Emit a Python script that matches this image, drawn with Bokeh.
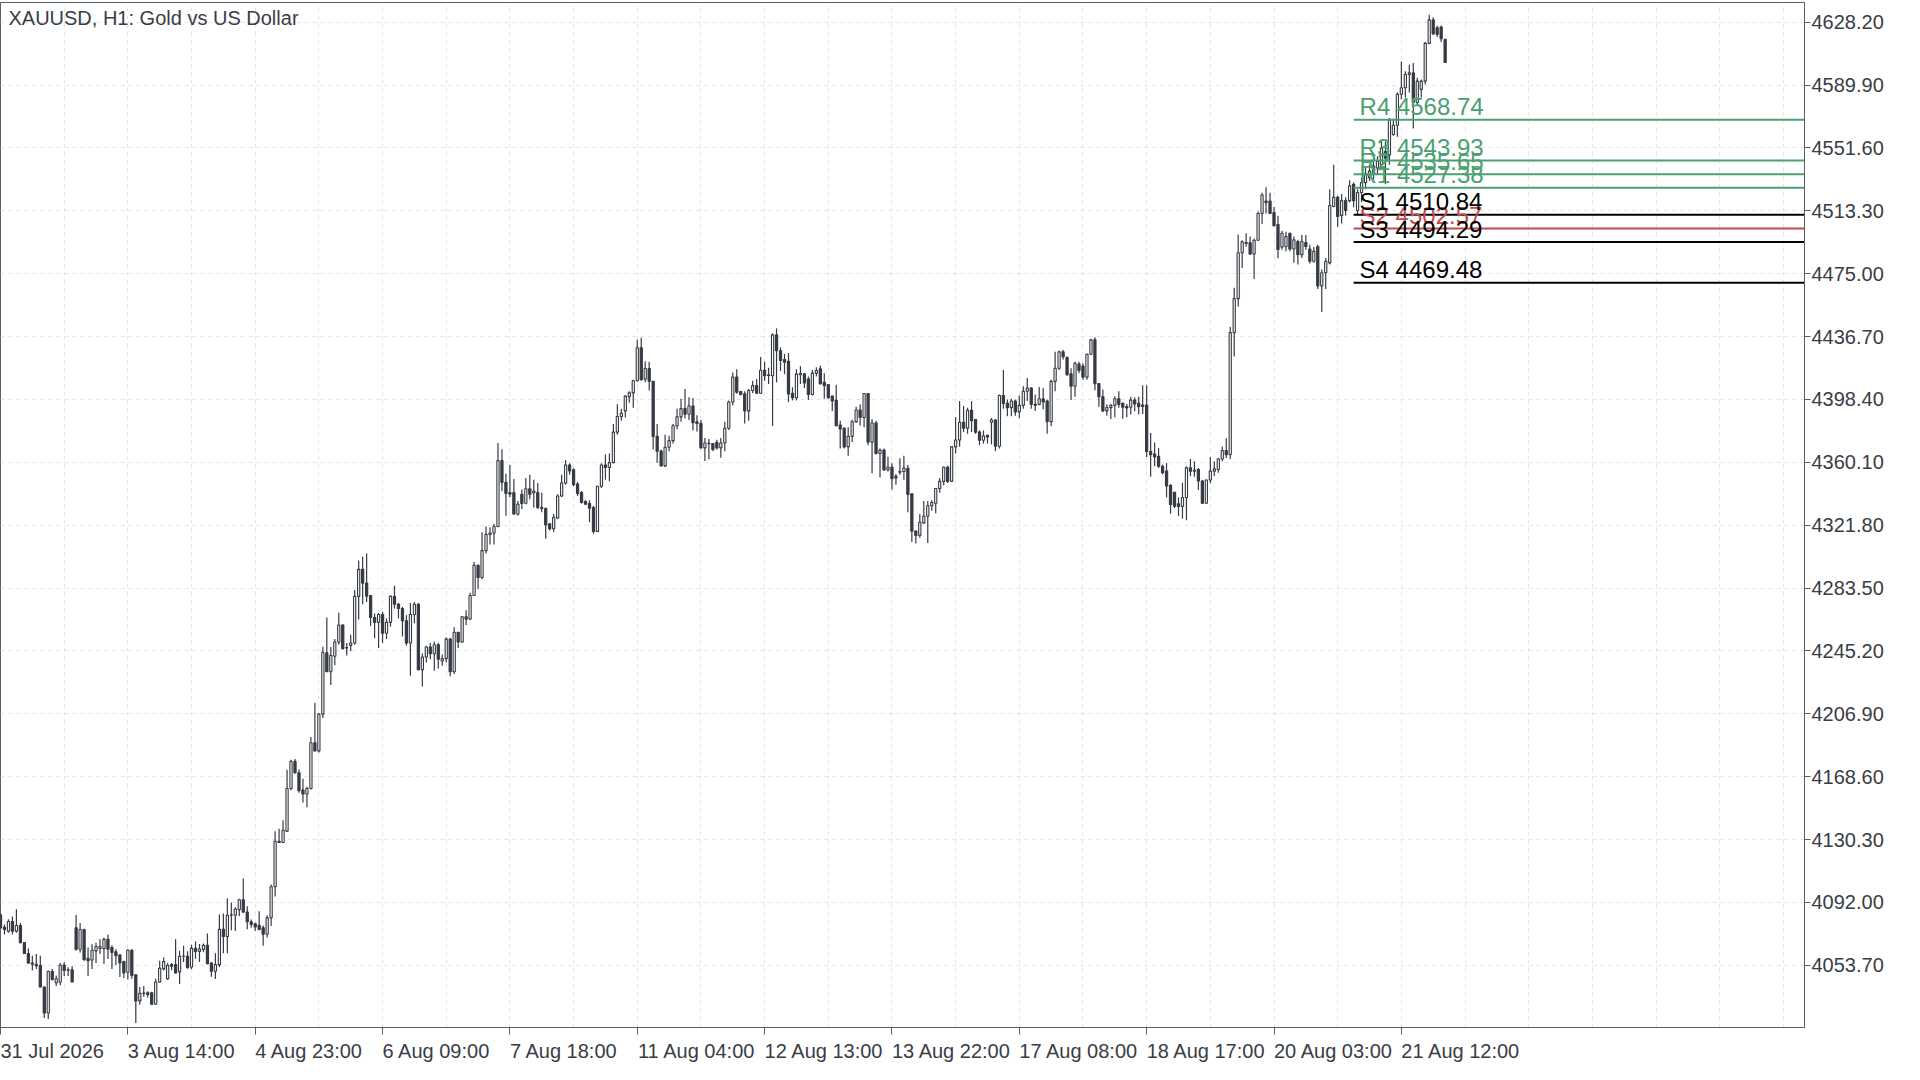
from bokeh.plotting import figure
from bokeh.models import Range1d, FixedTicker, Label, ColumnDataSource, PrintfTickFormatter
from bokeh.embed import file_html
from bokeh.resources import INLINE
from bokeh.core.properties import value

# ---------------- data ----------------
chart_title = "XAUUSD, H1:  Gold vs US Dollar"

opens = [
    4084.4, 4076.9, 4074.5, 4080.4, 4074.5, 4077.9, 4067.5, 4060.9, 4055.1, 4054.3,
    4053.5, 4040.5, 4024.6, 4049.9, 4043.1, 4043.5, 4053.9, 4050.9, 4050.9, 4076.5,
    4063.5, 4075.5, 4057.9, 4056.9, 4062.5, 4064.0, 4063.9, 4069.5, 4064.5, 4061.9,
    4059.9, 4055.9, 4049.5, 4062.9, 4047.9, 4032.0, 4036.6, 4037.0, 4037.0, 4030.0,
    4043.5, 4051.5, 4045.5, 4054.1, 4054.1, 4049.7, 4059.2, 4059.2, 4052.7, 4064.0,
    4062.2, 4063.4, 4065.8, 4055.1, 4050.1, 4054.1, 4075.6, 4071.2, 4084.2, 4084.2,
    4087.6, 4093.6, 4086.2, 4080.2, 4079.0, 4078.0, 4076.6, 4072.6, 4082.6, 4101.5,
    4129.3, 4128.5, 4135.4, 4161.4, 4177.9, 4171.0, 4160.4, 4158.0, 4161.4, 4189.3,
    4184.3, 4206.7, 4244.0, 4232.5, 4242.0, 4250.6, 4261.0, 4247.0, 4248.6, 4250.0,
    4278.4, 4294.9, 4286.5, 4279.0, 4265.6, 4262.6, 4267.4, 4256.0, 4262.6, 4278.4,
    4273.6, 4271.0, 4263.6, 4250.0, 4267.4, 4273.6, 4233.7, 4241.5, 4247.6, 4243.5,
    4249.0, 4239.1, 4240.5, 4252.4, 4232.5, 4256.6, 4250.6, 4266.0, 4264.6, 4279.0,
    4297.3, 4289.9, 4306.3, 4316.2, 4317.0, 4321.0, 4361.1, 4347.9, 4341.6, 4341.6,
    4328.6, 4340.6, 4335.2, 4344.0, 4341.6, 4341.6, 4332.6, 4332.0, 4322.6, 4319.6,
    4326.2, 4339.6, 4347.5, 4358.5, 4355.5, 4346.9, 4341.6, 4336.2, 4335.0, 4332.6,
    4318.0, 4345.5, 4358.5, 4356.9, 4359.9, 4378.5, 4388.0, 4391.4, 4400.0, 4402.4,
    4409.8, 4429.9, 4410.8, 4417.2, 4409.4, 4375.9, 4366.9, 4357.9, 4369.3, 4373.3,
    4382.4, 4387.8, 4392.8, 4389.4, 4394.4, 4384.8, 4383.8, 4368.9, 4371.5, 4371.5,
    4372.3, 4368.9, 4371.9, 4380.8, 4396.8, 4412.1, 4403.2, 4401.8, 4391.4, 4403.8,
    4406.8, 4402.2, 4416.2, 4413.0, 4412.8, 4437.7, 4428.1, 4422.7, 4421.7, 4402.2,
    4399.4, 4413.4, 4414.0, 4410.8, 4401.4, 4414.4, 4417.0, 4408.8, 4407.4, 4400.4,
    4397.8, 4382.8, 4380.8, 4369.5, 4375.9, 4384.8, 4392.0, 4387.4, 4402.0, 4372.4,
    4384.0, 4365.5, 4367.5, 4355.5, 4357.1, 4351.5, 4354.5, 4354.5, 4356.5, 4340.9,
    4318.2, 4315.6, 4323.2, 4327.2, 4333.6, 4335.2, 4344.1, 4348.5, 4357.1, 4348.5,
    4369.5, 4373.7, 4384.5, 4380.9, 4391.8, 4386.1, 4378.5, 4373.5, 4376.5, 4384.5,
    4385.9, 4369.9, 4400.8, 4396.0, 4393.4, 4397.4, 4390.8, 4394.8, 4403.4, 4405.4,
    4395.4, 4395.4, 4398.8, 4397.4, 4384.9, 4409.4, 4417.4, 4427.4, 4424.0, 4414.0,
    4406.4, 4420.0, 4418.8, 4412.0, 4425.9, 4434.7, 4408.0, 4400.0, 4391.4, 4393.4,
    4394.8, 4398.8, 4396.0, 4394.0, 4393.6, 4398.0, 4396.0, 4395.0, 4395.0, 4366.7,
    4365.1, 4363.7, 4357.7, 4354.7, 4346.1, 4341.8, 4334.8, 4333.2, 4338.7, 4356.7,
    4355.3, 4355.7, 4348.7, 4335.2, 4349.3, 4354.7, 4355.7, 4362.1, 4367.3, 4364.7,
    4439.1, 4459.8, 4487.8, 4494.0, 4493.8, 4487.0, 4495.4, 4511.7, 4519.3, 4519.3,
    4512.3, 4504.9, 4491.2, 4491.6, 4499.6, 4490.0, 4494.6, 4486.6, 4494.0, 4490.0,
    4482.6, 4491.6, 4467.6, 4475.6, 4481.6, 4515.9, 4521.5, 4510.5, 4519.5, 4519.5,
    4529.5, 4513.5, 4524.5, 4530.5, 4533.5, 4535.5, 4539.4, 4541.4, 4549.4, 4547.4,
    4559.8, 4565.4, 4584.3, 4588.3, 4596.3, 4597.3, 4579.3, 4587.3, 4592.3, 4615.3,
    4629.6, 4624.8, 4625.2, 4617.6,
]

highs = [
    4085.5, 4078.5, 4081.8, 4083.4, 4087.8, 4079.5, 4067.9, 4063.9, 4059.5, 4060.5,
    4059.5, 4040.8, 4050.5, 4051.5, 4047.5, 4055.1, 4055.5, 4052.5, 4053.1, 4084.4,
    4079.5, 4075.9, 4064.5, 4066.5, 4067.5, 4069.5, 4070.5, 4072.5, 4065.9, 4063.5,
    4060.5, 4056.5, 4063.5, 4063.5, 4048.2, 4040.5, 4041.1, 4037.9, 4037.6, 4045.5,
    4056.5, 4058.5, 4055.1, 4055.1, 4069.6, 4062.6, 4065.6, 4062.2, 4066.2, 4068.2,
    4066.6, 4067.0, 4073.0, 4055.7, 4061.0, 4084.6, 4085.2, 4094.6, 4092.0, 4089.0,
    4094.2, 4106.5, 4089.6, 4081.6, 4079.6, 4086.6, 4078.0, 4084.2, 4102.9, 4135.4,
    4136.8, 4142.0, 4172.8, 4178.9, 4179.3, 4173.0, 4167.4, 4162.4, 4192.7, 4213.6,
    4207.3, 4247.8, 4265.6, 4247.6, 4252.4, 4268.4, 4261.4, 4250.0, 4255.0, 4282.3,
    4300.3, 4302.5, 4304.5, 4279.2, 4268.0, 4268.4, 4269.0, 4265.0, 4279.0, 4284.9,
    4274.4, 4272.0, 4267.0, 4274.4, 4275.0, 4274.4, 4243.7, 4248.4, 4250.0, 4251.0,
    4250.0, 4243.0, 4253.6, 4253.0, 4259.6, 4256.8, 4266.4, 4270.0, 4280.6, 4299.3,
    4297.9, 4317.5, 4321.0, 4320.6, 4322.6, 4371.9, 4368.1, 4353.1, 4358.5, 4349.9,
    4336.6, 4343.6, 4350.5, 4352.5, 4349.5, 4347.5, 4341.6, 4332.6, 4323.0, 4328.6,
    4340.6, 4352.5, 4361.5, 4359.5, 4356.5, 4348.1, 4342.6, 4337.0, 4337.0, 4333.6,
    4345.8, 4359.5, 4364.9, 4365.5, 4383.4, 4395.4, 4392.8, 4401.0, 4403.4, 4410.4,
    4434.7, 4435.9, 4421.7, 4421.3, 4409.6, 4383.4, 4367.9, 4376.9, 4376.3, 4383.4,
    4392.8, 4398.8, 4404.8, 4399.8, 4399.2, 4388.8, 4385.8, 4374.9, 4374.3, 4371.9,
    4373.9, 4374.9, 4384.8, 4397.8, 4414.8, 4416.8, 4403.4, 4403.4, 4404.8, 4409.8,
    4410.8, 4424.3, 4421.3, 4417.7, 4438.7, 4441.7, 4430.1, 4426.1, 4426.7, 4405.8,
    4416.8, 4418.7, 4414.4, 4412.4, 4416.4, 4418.0, 4419.0, 4414.4, 4407.6, 4400.8,
    4407.4, 4385.4, 4381.4, 4381.4, 4386.0, 4394.0, 4395.4, 4402.2, 4402.2, 4386.4,
    4385.4, 4368.5, 4368.5, 4363.5, 4359.5, 4352.9, 4362.5, 4364.1, 4358.5, 4341.0,
    4318.6, 4328.6, 4336.6, 4336.6, 4337.0, 4344.5, 4350.5, 4357.5, 4358.1, 4369.9,
    4387.5, 4397.4, 4394.4, 4393.4, 4397.4, 4386.5, 4379.5, 4379.5, 4376.9, 4387.1,
    4386.5, 4401.4, 4416.4, 4398.4, 4398.8, 4398.4, 4400.8, 4406.4, 4411.4, 4405.8,
    4401.4, 4406.0, 4405.4, 4398.4, 4410.4, 4427.4, 4428.0, 4428.7, 4424.4, 4417.4,
    4421.4, 4421.4, 4420.4, 4426.4, 4435.3, 4436.3, 4408.4, 4404.4, 4395.4, 4395.4,
    4400.4, 4403.4, 4396.6, 4395.6, 4400.0, 4399.6, 4400.0, 4407.0, 4407.0, 4378.0,
    4372.1, 4368.7, 4358.7, 4359.7, 4346.7, 4342.1, 4338.7, 4347.7, 4357.7, 4362.1,
    4360.7, 4356.7, 4349.3, 4349.7, 4363.3, 4360.7, 4362.7, 4369.7, 4374.7, 4442.5,
    4466.4, 4498.9, 4495.4, 4499.7, 4497.7, 4496.4, 4512.9, 4524.3, 4527.7, 4524.3,
    4515.7, 4510.3, 4501.2, 4500.6, 4500.0, 4497.6, 4495.6, 4498.6, 4498.6, 4492.6,
    4491.2, 4492.6, 4477.6, 4484.6, 4526.5, 4541.4, 4522.5, 4523.5, 4521.5, 4531.9,
    4530.5, 4526.5, 4533.5, 4539.5, 4541.4, 4543.4, 4546.4, 4556.4, 4555.4, 4569.8,
    4569.4, 4585.3, 4604.3, 4598.3, 4602.3, 4603.3, 4594.3, 4593.3, 4616.2, 4632.8,
    4631.2, 4626.2, 4626.2, 4618.2,
]

lows = [
    4076.0, 4072.5, 4073.5, 4072.5, 4073.5, 4067.1, 4060.5, 4054.5, 4050.5, 4051.5,
    4040.2, 4021.6, 4021.0, 4044.5, 4041.1, 4041.6, 4047.1, 4047.1, 4043.3, 4062.5,
    4061.5, 4056.5, 4047.1, 4051.5, 4055.1, 4060.5, 4054.5, 4057.5, 4051.5, 4053.9,
    4046.5, 4045.9, 4045.1, 4045.5, 4018.6, 4029.6, 4034.6, 4034.0, 4029.6, 4029.6,
    4043.1, 4050.5, 4044.7, 4050.7, 4048.7, 4042.3, 4055.7, 4051.7, 4051.3, 4057.7,
    4055.7, 4061.6, 4054.3, 4046.7, 4045.3, 4052.7, 4061.0, 4061.0, 4075.0, 4074.6,
    4083.6, 4085.6, 4075.6, 4076.6, 4074.6, 4075.0, 4065.6, 4070.6, 4077.6, 4095.6,
    4128.3, 4128.3, 4134.9, 4160.4, 4170.4, 4158.8, 4152.8, 4150.0, 4160.8, 4183.9,
    4183.3, 4204.3, 4232.3, 4224.5, 4236.5, 4249.0, 4246.0, 4242.4, 4245.0, 4249.0,
    4264.4, 4273.6, 4275.0, 4260.4, 4253.0, 4247.0, 4250.0, 4252.4, 4260.0, 4271.0,
    4265.0, 4254.0, 4248.4, 4230.1, 4262.0, 4233.5, 4223.5, 4238.1, 4240.1, 4233.1,
    4234.5, 4236.1, 4238.1, 4229.7, 4231.1, 4247.0, 4250.0, 4261.0, 4264.4, 4278.6,
    4282.9, 4288.9, 4304.5, 4310.0, 4310.0, 4320.6, 4342.6, 4327.6, 4339.0, 4328.2,
    4327.6, 4331.6, 4334.6, 4337.6, 4332.6, 4331.6, 4329.6, 4313.6, 4318.6, 4317.6,
    4325.6, 4339.0, 4346.5, 4352.5, 4345.5, 4339.6, 4335.0, 4334.2, 4323.6, 4316.6,
    4317.6, 4344.5, 4349.5, 4348.5, 4359.5, 4376.9, 4385.4, 4387.4, 4396.4, 4393.4,
    4409.4, 4410.0, 4408.8, 4403.8, 4367.9, 4359.9, 4357.5, 4357.3, 4366.9, 4371.5,
    4380.2, 4384.8, 4386.8, 4385.8, 4379.4, 4378.8, 4368.5, 4360.9, 4361.9, 4366.9,
    4367.9, 4362.9, 4366.9, 4379.8, 4394.8, 4401.8, 4400.8, 4383.8, 4385.4, 4402.2,
    4401.8, 4401.8, 4409.8, 4407.8, 4382.2, 4408.8, 4415.7, 4413.8, 4396.8, 4397.8,
    4397.8, 4407.8, 4405.4, 4398.0, 4400.8, 4412.4, 4407.4, 4398.8, 4398.8, 4391.4,
    4382.0, 4368.5, 4368.5, 4364.1, 4372.4, 4384.0, 4382.4, 4381.4, 4370.5, 4353.5,
    4364.9, 4350.9, 4355.0, 4354.5, 4343.5, 4346.5, 4352.5, 4349.5, 4329.6, 4311.6,
    4310.6, 4314.2, 4322.6, 4311.0, 4330.6, 4329.0, 4341.6, 4346.1, 4347.5, 4348.1,
    4365.5, 4369.5, 4378.5, 4377.5, 4378.5, 4377.5, 4370.5, 4371.5, 4371.5, 4371.0,
    4366.9, 4368.5, 4392.8, 4388.1, 4388.1, 4388.5, 4386.9, 4392.8, 4397.4, 4392.8,
    4391.4, 4394.8, 4392.4, 4377.5, 4382.1, 4403.4, 4416.4, 4422.8, 4412.8, 4398.0,
    4400.0, 4414.4, 4410.4, 4410.4, 4425.4, 4404.0, 4394.0, 4390.8, 4388.5, 4386.5,
    4387.5, 4393.4, 4386.6, 4387.6, 4389.2, 4391.2, 4389.2, 4389.6, 4363.3, 4351.3,
    4357.7, 4356.7, 4352.7, 4338.7, 4328.8, 4332.2, 4327.4, 4325.8, 4324.8, 4351.7,
    4351.3, 4343.3, 4334.8, 4334.8, 4347.3, 4351.7, 4353.7, 4360.7, 4362.7, 4362.1,
    4424.5, 4455.0, 4478.4, 4491.4, 4486.4, 4471.8, 4495.0, 4505.3, 4511.7, 4511.3,
    4503.7, 4484.4, 4489.6, 4488.6, 4488.6, 4481.6, 4480.6, 4484.6, 4489.6, 4481.2,
    4481.6, 4465.6, 4451.7, 4465.6, 4480.6, 4515.5, 4503.5, 4505.5, 4510.5, 4518.5,
    4515.5, 4510.5, 4518.5, 4526.5, 4531.5, 4532.5, 4535.5, 4539.4, 4529.5, 4541.4,
    4559.0, 4558.4, 4581.3, 4582.3, 4585.3, 4563.4, 4577.3, 4582.3, 4590.3, 4614.8,
    4620.2, 4619.2, 4616.2, 4603.3,
]

closes = [
    4076.5, 4075.5, 4080.4, 4074.5, 4077.9, 4067.5, 4060.9, 4055.1, 4054.3, 4053.5,
    4040.5, 4024.6, 4049.9, 4045.1, 4045.5, 4053.9, 4050.5, 4050.7, 4043.5, 4063.5,
    4075.5, 4057.1, 4056.5, 4062.9, 4065.1, 4065.1, 4069.5, 4063.5, 4061.5, 4059.5,
    4055.1, 4049.1, 4062.9, 4047.5, 4032.0, 4036.6, 4036.8, 4036.0, 4030.0, 4043.5,
    4051.9, 4055.9, 4053.7, 4053.1, 4049.1, 4059.2, 4059.4, 4052.3, 4064.0, 4062.2,
    4063.6, 4065.8, 4054.7, 4050.1, 4054.1, 4075.6, 4071.2, 4084.2, 4084.4, 4088.0,
    4093.6, 4086.2, 4080.2, 4078.6, 4077.0, 4075.6, 4072.6, 4082.6, 4101.5, 4129.3,
    4128.5, 4136.0, 4161.4, 4177.9, 4171.0, 4160.0, 4158.0, 4161.4, 4189.3, 4184.3,
    4206.7, 4244.2, 4232.5, 4242.4, 4250.6, 4261.0, 4246.6, 4247.2, 4250.0, 4278.4,
    4294.9, 4286.5, 4278.6, 4265.6, 4262.6, 4267.4, 4256.0, 4262.6, 4278.4, 4273.6,
    4271.0, 4263.6, 4250.0, 4267.4, 4273.6, 4233.7, 4241.5, 4247.6, 4243.5, 4249.0,
    4240.1, 4240.5, 4252.4, 4232.5, 4256.6, 4250.6, 4266.0, 4264.6, 4279.0, 4297.3,
    4289.9, 4306.3, 4316.2, 4317.0, 4321.0, 4361.1, 4347.9, 4341.2, 4340.6, 4328.6,
    4334.6, 4335.0, 4344.0, 4340.6, 4342.6, 4332.6, 4332.0, 4322.0, 4319.6, 4326.6,
    4339.6, 4347.5, 4358.5, 4354.9, 4346.5, 4341.2, 4335.6, 4334.6, 4332.2, 4318.0,
    4345.5, 4358.5, 4356.9, 4359.9, 4378.5, 4388.0, 4390.0, 4400.4, 4402.4, 4409.8,
    4429.9, 4410.4, 4417.2, 4409.4, 4375.9, 4366.9, 4357.9, 4369.3, 4373.3, 4382.4,
    4387.8, 4392.8, 4389.4, 4394.4, 4384.2, 4383.8, 4368.9, 4371.9, 4371.7, 4367.9,
    4368.9, 4371.9, 4380.8, 4396.8, 4412.1, 4402.8, 4401.4, 4391.4, 4403.8, 4406.8,
    4402.2, 4416.2, 4412.8, 4413.4, 4437.7, 4428.1, 4422.1, 4421.1, 4401.8, 4399.4,
    4413.8, 4414.2, 4408.4, 4401.4, 4414.4, 4416.0, 4408.0, 4406.8, 4399.4, 4397.4,
    4382.4, 4380.4, 4369.5, 4375.9, 4384.8, 4392.0, 4387.4, 4402.0, 4372.4, 4384.0,
    4365.5, 4367.5, 4355.5, 4357.1, 4350.1, 4350.5, 4354.1, 4356.5, 4340.5, 4318.2,
    4315.6, 4323.6, 4327.2, 4333.6, 4335.6, 4344.1, 4348.5, 4357.1, 4348.5, 4369.5,
    4373.7, 4384.5, 4380.9, 4391.8, 4385.5, 4378.5, 4373.5, 4376.1, 4375.5, 4385.9,
    4369.9, 4400.8, 4396.0, 4393.4, 4397.4, 4390.8, 4394.8, 4403.4, 4405.4, 4395.4,
    4394.8, 4398.8, 4396.8, 4384.9, 4409.4, 4417.4, 4427.4, 4424.4, 4413.4, 4406.4,
    4420.4, 4416.0, 4412.0, 4425.9, 4434.7, 4408.0, 4400.0, 4391.4, 4393.4, 4394.8,
    4398.8, 4395.4, 4393.6, 4393.2, 4398.0, 4395.6, 4394.0, 4394.2, 4366.7, 4364.7,
    4363.3, 4357.7, 4353.7, 4345.7, 4334.4, 4333.4, 4333.2, 4338.7, 4356.7, 4354.7,
    4354.7, 4348.7, 4335.2, 4349.3, 4354.7, 4356.1, 4362.1, 4367.3, 4364.7, 4439.1,
    4459.8, 4487.8, 4494.4, 4493.4, 4487.0, 4495.4, 4511.7, 4522.9, 4518.3, 4511.7,
    4504.3, 4489.8, 4499.6, 4497.6, 4490.0, 4495.6, 4486.6, 4494.6, 4491.6, 4482.6,
    4488.6, 4467.6, 4475.6, 4482.6, 4516.5, 4521.5, 4509.9, 4519.5, 4513.5, 4528.5,
    4519.5, 4524.5, 4530.5, 4535.9, 4537.5, 4540.4, 4543.4, 4551.4, 4545.4, 4568.4,
    4565.4, 4584.3, 4588.3, 4596.3, 4597.3, 4579.3, 4592.3, 4592.3, 4615.3, 4629.6,
    4621.2, 4620.8, 4618.2, 4603.7,
]

time_labels = ["31 Jul 2026", "3 Aug 14:00", "4 Aug 23:00", "6 Aug 09:00", "7 Aug 18:00",
               "11 Aug 04:00", "12 Aug 13:00", "13 Aug 22:00", "17 Aug 08:00",
               "18 Aug 17:00", "20 Aug 03:00", "21 Aug 12:00"]
time_label_bars = [0, 32, 64, 96, 128, 160, 192, 224, 256, 288, 320, 352]

price_ticks = [4053.70, 4092.00, 4130.30, 4168.60, 4206.90, 4245.20, 4283.50, 4321.80,
               4360.10, 4398.40, 4436.70, 4475.00, 4513.30, 4551.60, 4589.90, 4628.20]

pivot_names = ["R4", "R3", "R2", "R1", "S2", "S1", "S3", "S4"]
pivot_values = [4568.74, 4543.93, 4535.65, 4527.38, 4502.57, 4510.84, 4494.29, 4469.48]
pivot_start_bar = 340

# ---------------- styles / layout ----------------
W, H = 1904, 1064
ML, MR, MT, MB = 0, 100, 2, 34
X0, X1 = 0.0, 453.3
Y0, Y1 = 4015.8, 4640.2
FONT = "Liberation Sans"
TXT = "#3a3d45"
AXC = "#5a5e67"
GRID = "#e3e3e8"
CANDLE = "#363a43"
GREEN = "#4b9f70"
RED = "#c24a4a"
pivot_color_of = {"R4": GREEN, "R3": GREEN, "R2": GREEN, "R1": GREEN,
                  "S1": "#000000", "S2": RED, "S3": "#000000", "S4": "#000000"}

frame_w = W - ML - MR
frame_h = H - MT - MB
px_per_bar = frame_w / (X1 - X0)
px_per_unit = frame_h / (Y1 - Y0)

p = figure(width=W, height=H, x_range=Range1d(X0, X1), y_range=Range1d(Y0, Y1),
           output_backend="svg", toolbar_location=None, y_axis_location="right",
           min_border_left=ML, min_border_right=MR, min_border_top=MT, min_border_bottom=MB,
           background_fill_color="white", border_fill_color="white")
p.outline_line_color = AXC
p.outline_line_width = 1

# grids
p.ygrid.grid_line_color = GRID
p.ygrid.grid_line_dash = "4 4"
p.xgrid.ticker = FixedTicker(ticks=list(range(16, 454, 16)))
p.xgrid.grid_line_color = GRID
p.xgrid.grid_line_dash = "4 4"

# right price axis
ya = p.yaxis[0]
ya.ticker = FixedTicker(ticks=price_ticks)
ya.formatter = PrintfTickFormatter(format="%.2f")
ya.major_tick_out = 6
ya.major_tick_in = 0
ya.minor_tick_line_color = None
ya.major_tick_line_color = AXC
ya.axis_line_color = AXC
ya.major_label_standoff = 1
ya.major_label_text_font = FONT
ya.major_label_text_font_size = "20px"
ya.major_label_text_color = TXT

# bottom time axis: labels start at their tick (MetaTrader style)
char_w = {" ": 0.278, ":": 0.278, "A": 0.667, "u": 0.556, "g": 0.556, "J": 0.5, "l": 0.222}
def text_width(s, size):
    return sum(char_w.get(ch, 0.556) for ch in s) * size

centers = [round(b + text_width(t, 20) / 2 / px_per_bar, 3)
           for b, t in zip(time_label_bars, time_labels)]
xa = p.xaxis[0]
xa.ticker = FixedTicker(ticks=centers, minor_ticks=time_label_bars)
xa.major_label_overrides = {c: t for c, t in zip(centers, time_labels)}
xa.major_tick_line_color = None
xa.major_tick_out = 0
xa.major_tick_in = 0
xa.minor_tick_out = 7
xa.minor_tick_in = 0
xa.minor_tick_line_color = AXC
xa.axis_line_color = AXC
xa.major_label_standoff = 5
xa.major_label_text_font = FONT
xa.major_label_text_font_size = "20px"
xa.major_label_text_color = TXT

# candles
n = len(closes)
xs = list(range(n))
up = [c >= o for o, c in zip(opens, closes)]
src = ColumnDataSource(dict(
    x=xs, low=lows, high=highs,
    top=[max(o, c) for o, c in zip(opens, closes)],
    bottom=[min(o, c) for o, c in zip(opens, closes)],
    fill=["white" if u else CANDLE for u in up],
))
p.segment(x0="x", y0="low", x1="x", y1="high", source=src, line_color=CANDLE, line_width=1.2)
p.vbar(x="x", width=0.55, top="top", bottom="bottom", source=src,
       fill_color="fill", line_color=CANDLE, line_width=1.1)

# Camarilla pivot lines and labels
piv = ColumnDataSource(dict(
    x0=[pivot_start_bar] * len(pivot_values),
    x1=[X1] * len(pivot_values),
    y=pivot_values,
    ty=[v + 13 / px_per_unit for v in pivot_values],
    tx=[pivot_start_bar + 1.5] * len(pivot_values),
    color=[pivot_color_of[nm] for nm in pivot_names],
    label=[f"{nm} {v:.2f}" for nm, v in zip(pivot_names, pivot_values)],
))
p.segment(x0="x0", y0="y", x1="x1", y1="y", source=piv, line_color="color", line_width=2)
p.text(x="tx", y="ty", text="label", source=piv, text_color="color",
       text_font=value(FONT), text_font_size="24px", text_baseline="alphabetic",
       text_align="left")

# symbol caption
p.add_layout(Label(x=2, y=Y1 - 5 / px_per_unit, text=chart_title, text_font=FONT,
                   text_font_size="20px", text_color=TXT, text_baseline="top",
                   text_align="left"))

open("out.html", "w").write(file_html(p, INLINE))
